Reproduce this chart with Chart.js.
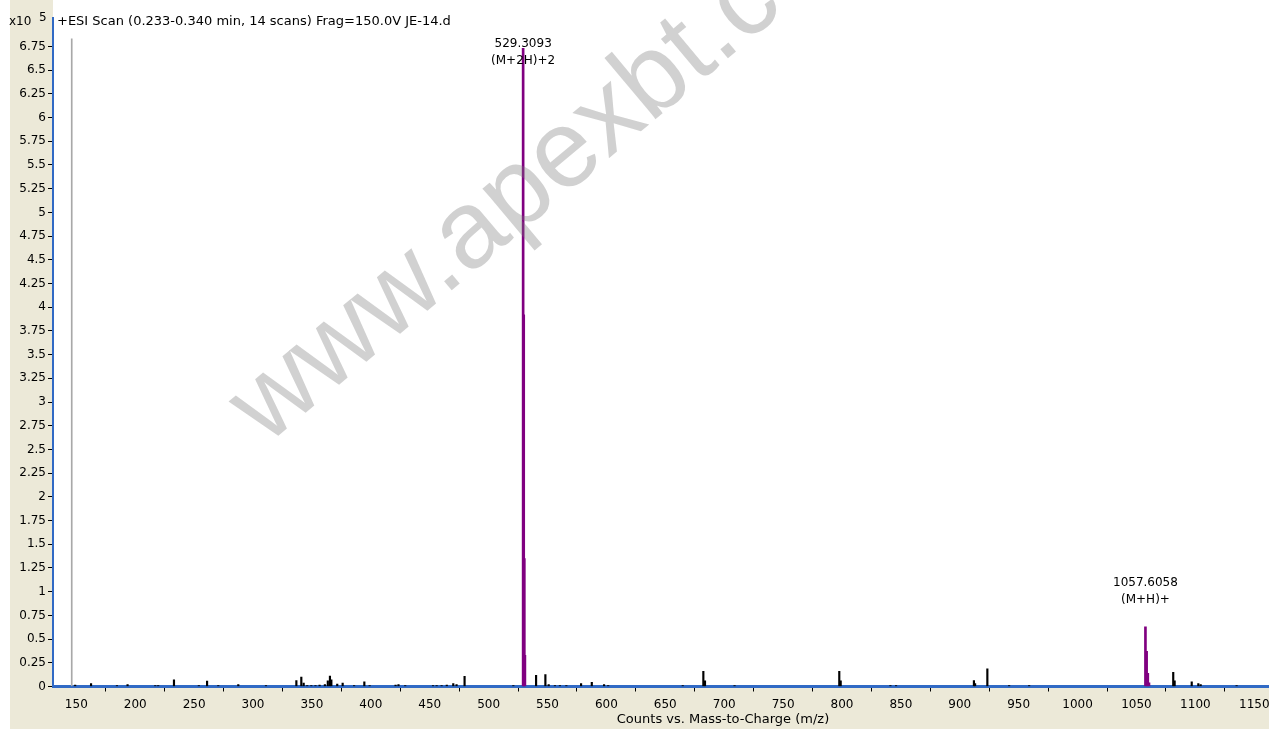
<!DOCTYPE html>
<html>
<head>
<meta charset="utf-8">
<title>+ESI Scan JE-14.d</title>
<script src="https://cdn.jsdelivr.net/npm/chart.js@4.4.0/dist/chart.umd.min.js"></script>
<style>
  html, body { margin: 0; padding: 0; background: #fff; overflow: hidden; }
  #spectrum { display: block; }
</style>
</head>
<body>
<canvas id="spectrum" width="1269" height="729"></canvas>
<script>
// small peaks of the scan (black), m/z and counts x10^5
const minorMz = [149.0, 162.5, 184.5, 193.5, 217.0, 219.5, 232.9, 254.0, 261.0, 270.5,
  287.5, 311.0, 336.8, 341.0, 343.0, 346.0, 349.5, 353.0, 356.5, 361.0,
  363.5, 365.3, 366.5, 371.5, 376.1, 385.8, 394.5, 399.0, 421.0, 423.5,
  429.2, 452.8, 455.9, 460.1, 464.5, 470.0, 472.8, 479.6, 521.0, 540.3,
  548.2, 551.0, 556.3, 560.5, 566.0, 578.5, 587.6, 598.0, 601.5, 664.8,
  682.3, 683.7, 708.8, 797.7, 798.9, 841.1, 845.9, 912.0, 913.0, 923.4,
  941.9, 958.9, 1081.2, 1082.4, 1096.9, 1102.5, 1104.5, 1135.0];
const minorCounts = [0.015, 0.03, 0.01, 0.02, 0.01, 0.01, 0.07, 0.01, 0.056, 0.01,
  0.02, 0.01, 0.063, 0.10, 0.035, 0.01, 0.01, 0.01, 0.015, 0.02,
  0.06, 0.11, 0.07, 0.025, 0.035, 0.01, 0.05, 0.01, 0.015, 0.02,
  0.01, 0.01, 0.01, 0.01, 0.015, 0.03, 0.02, 0.106, 0.01, 0.117,
  0.127, 0.02, 0.01, 0.01, 0.01, 0.03, 0.045, 0.02, 0.01, 0.01,
  0.16, 0.06, 0.01, 0.16, 0.06, 0.01, 0.01, 0.063, 0.03, 0.187,
  0.01, 0.01, 0.15, 0.06, 0.05, 0.03, 0.02, 0.01];

// compound isotope clusters (purple)
const ionMz = [529.31, 529.81, 530.31, 530.81, 1057.61, 1058.61, 1059.61, 1060.61];
const ionCounts = [6.73, 3.92, 1.35, 0.33, 0.628, 0.37, 0.14, 0.04];

// grey marker line left of the scan
const markerMz = [146.1];
const markerCounts = [6.83];

// peak annotations
const labelMz = [529.3093, 1057.6058];
const labelCounts = [6.73, 0.628];
const labelMass = ['529.3093', '1057.6058'];
const labelIon = ['(M+2H)+2', '(M+H)+'];

const xTicks = [150, 200, 250, 300, 350, 400, 450, 500, 550, 600, 650,
  700, 750, 800, 850, 900, 950, 1000, 1050, 1100, 1150];
const yTicks = [0, 0.25, 0.5, 0.75, 1, 1.25, 1.5, 1.75, 2, 2.25, 2.5, 2.75, 3, 3.25,
  3.5, 3.75, 4, 4.25, 4.5, 4.75, 5, 5.25, 5.5, 5.75, 6, 6.25, 6.5, 6.75];

const font = 'DejaVu Sans';
const beige = '#ece9d8';

const toPoints = (xs, ys) => xs.map((x, i) => ({x: x, y: ys[i]}));

// window chrome: beige panels, header texts, peak labels and watermark
const panelPlugin = {
    id: 'panel',
    beforeDraw(chart) {
        const ctx = chart.ctx;
        const a = chart.chartArea;
        ctx.save();
        ctx.fillStyle = '#fff';
        ctx.fillRect(0, 0, chart.width, chart.height);
        ctx.fillStyle = beige;
        ctx.fillRect(10, 0, a.left - 10, chart.height);
        ctx.fillRect(10, a.bottom, chart.width - 10, chart.height - a.bottom);
        ctx.restore();
    },
    afterDraw(chart) {
        const ctx = chart.ctx;
        const x = chart.scales.x;
        const y = chart.scales.y;
        ctx.save();
        ctx.fillStyle = '#000';
        ctx.textBaseline = 'alphabetic';
        ctx.textAlign = 'left';
        ctx.font = '13px "' + font + '"';
        ctx.fillText('+ESI Scan (0.233-0.340 min, 14 scans) Frag=150.0V JE-14.d', 57, 25);
        ctx.font = '12px "' + font + '"';
        ctx.fillText('x10', 9, 25);
        ctx.fillText('5', 39, 21);

        ctx.font = '13px "' + font + '"';
        ctx.textAlign = 'center';
        ctx.textBaseline = 'middle';
        ctx.fillText('Counts vs. Mass-to-Charge (m/z)', 723, 720);

        ctx.font = '12px "' + font + '"';
        for (let i = 0; i < labelMz.length; i++) {
            const px = x.getPixelForValue(labelMz[i]);
            const top = Math.max(y.getPixelForValue(labelCounts[i]) - 44, 44);
            ctx.fillText(labelMass[i], px, top);
            ctx.fillText(labelIon[i], px, top + 17);
        }

        // watermark
        ctx.translate(266, 446);
        ctx.rotate(-40 * Math.PI / 180);
        ctx.font = '110px "Liberation Sans"';
        ctx.textAlign = 'left';
        ctx.textBaseline = 'alphabetic';
        ctx.fillStyle = 'rgba(120,120,120,0.34)';
        ctx.fillText('www.apexbt.com', 0, 0);
        ctx.restore();
    }
};

new Chart('spectrum', {
    type: 'bar',
    data: {
        datasets: [{
            label: 'marker',
            data: toPoints(markerMz, markerCounts),
            backgroundColor: '#a8a8a8',
            barThickness: 1,
            grouped: false,
            order: 3
        }, {
            label: 'scan',
            data: toPoints(minorMz, minorCounts),
            backgroundColor: '#000',
            barThickness: 1.5,
            grouped: false,
            order: 2
        }, {
            label: 'ions',
            data: toPoints(ionMz, ionCounts),
            backgroundColor: '#800080',
            barThickness: 2,
            grouped: false,
            order: 1
        }]
    },
    options: {
        responsive: false,
        animation: false,
        devicePixelRatio: 1,
        layout: {padding: {top: 18, left: 0, right: 0, bottom: 0}},
        plugins: {
            legend: {display: false},
            tooltip: {enabled: false}
        },
        scales: {
            x: {
                type: 'linear',
                min: 130.2,
                max: 1162.5,
                offset: false,
                grid: {drawOnChartArea: false, tickLength: 5, color: '#000'},
                border: {color: '#316ac5', width: 3},
                ticks: {
                    font: {family: font, size: 12},
                    color: '#000',
                    padding: 6,
                    maxRotation: 0,
                    autoSkip: false,
                    includeBounds: false,
                    callback: v => String(v)
                },
                afterBuildTicks: s => { s.ticks = xTicks.map(v => ({value: v})); },
                afterFit: s => {
                    s.height = 42.5;
                    s.paddingLeft = 0;
                    s.paddingRight = 0;
                }
            },
            y: {
                min: 0,
                max: 7.05,
                grid: {drawOnChartArea: false, tickLength: 5, color: '#000'},
                border: {color: '#316ac5', width: 2},
                ticks: {
                    font: {family: font, size: 12},
                    color: '#000',
                    padding: 2,
                    autoSkip: false,
                    includeBounds: false,
                    callback: v => String(v)
                },
                afterBuildTicks: s => { s.ticks = yTicks.map(v => ({value: v})); },
                afterFit: s => {
                    s.width = 53;
                    s.paddingTop = 0;
                    s.paddingBottom = 0;
                }
            }
        }
    },
    plugins: [panelPlugin]
});
</script>
</body>
</html>
